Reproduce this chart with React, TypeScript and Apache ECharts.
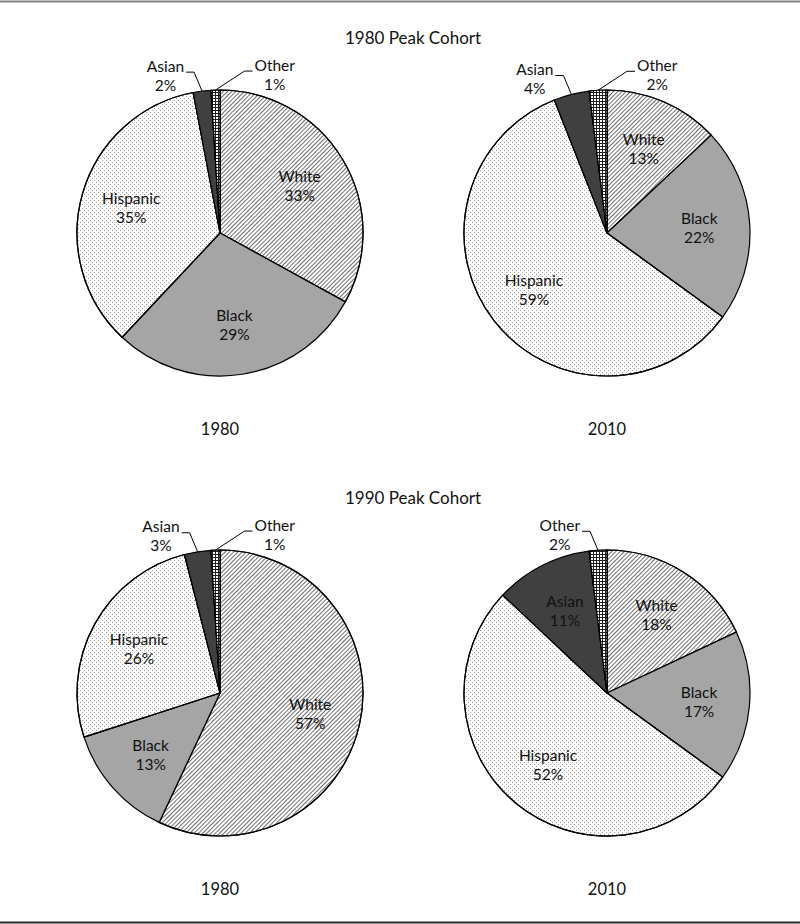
import React, { useEffect, useRef } from 'react';
import * as echarts from 'echarts';

// ---- data ----
const categories = ['White', 'Black', 'Hispanic', 'Asian', 'Other'];
const cohort1980In1980 = [33, 29, 35, 2, 1];
const cohort1980In2010 = [13, 22, 59, 4, 2];
const cohort1990In1980 = [57, 13, 26, 3, 1];
const cohort1990In2010 = [18, 17, 52, 11, 2];
const cohortTitles = ['1980 Peak Cohort', '1990 Peak Cohort'];
const yearLabels = ['1980', '2010'];

// ---- layout / style ----
const FONT = 'Lato, "Open Sans", sans-serif';
const TEXT = '#111111';
const R = 143;
const colX = [220, 607];
const rowY = [233, 693];

const pies = [
  { values: cohort1980In1980, center: [colX[0], rowY[0]], outside: { Asian: 'left', Other: 'right' } },
  { values: cohort1980In2010, center: [colX[1], rowY[0]], outside: { Asian: 'left', Other: 'right' } },
  { values: cohort1990In1980, center: [colX[0], rowY[1]], outside: { Asian: 'left', Other: 'right' } },
  { values: cohort1990In2010, center: [colX[1], rowY[1]], outside: { Other: 'left' } },
];

const sliceStyle: Record<string, any> = {
  White: {
    color: '#ffffff',
    decal: {
      symbol: 'rect', symbolSize: 1, color: '#707070',
      dashArrayX: [1, 0], dashArrayY: [1, 2], rotation: -Math.PI / 4,
    },
  },
  Black: { color: '#a5a5a5' },
  Hispanic: {
    color: '#ffffff',
    decal: {
      symbol: 'rect', symbolSize: 1, color: '#a0a0a0',
      dashArrayX: [[1, 3], [0, 2, 1, 1]], dashArrayY: [1, 1],
    },
  },
  Asian: { color: '#404040' },
  Other: {
    color: '#202020',
    decal: {
      symbol: 'rect', symbolSize: 1, color: '#ffffff',
      dashArrayX: [2, 1], dashArrayY: [2, 1],
    },
  },
};

const labelText = {
  color: TEXT,
  fontFamily: FONT,
  fontSize: 15.5,
  lineHeight: 19,
  formatter: '{b}\n{c}%',
};

function makeLabelLayout(sides: Record<string, string>) {
  return (p: any) => {
    const pts = p.labelLinePoints;
    if (!pts || !pts.length) return {};
    const side = sides[categories[p.dataIndex]];
    const right = side === 'right';
    const [x0, y0] = pts[0];
    const x1 = right ? x0 + 29 : x0 - 8;
    const y1 = y0 - 19;
    const x2 = right ? x1 + 8 : x1 - 8;
    const w = p.labelRect.width;
    return {
      x: right ? x2 + 2 + w / 2 : x2 - 2 - w / 2,
      y: y1 - 16,
      align: 'center',
      verticalAlign: 'top',
      labelLinePoints: [[x0, y0], [x1, y1], [x2, y1]],
    };
  };
}

function buildOption() {
  const series: any[] = [];
  pies.forEach((pie) => {
    const outside = pie.outside as Record<string, string>;
    series.push({
      type: 'pie',
      center: pie.center,
      radius: R,
      startAngle: 90,
      clockwise: true,
      avoidLabelOverlap: false,
      silent: true,
      itemStyle: { borderColor: '#000', borderWidth: 1.2 },
      label: { show: false, ...labelText },
      labelLine: { show: false, lineStyle: { color: '#000', width: 1 } },
      labelLayout: makeLabelLayout(outside),
      data: categories.map((name, i) => ({
        name,
        value: pie.values[i],
        itemStyle: sliceStyle[name],
        label: outside[name] ? { show: true, position: 'outside' } : { show: false },
        labelLine: outside[name] ? { show: true } : { show: false },
      })),
    });
    // label-only overlay to place inside labels a bit further out
    series.push({
      type: 'pie',
      center: pie.center,
      radius: [36, R],
      startAngle: 90,
      clockwise: true,
      avoidLabelOverlap: false,
      silent: true,
      z: 3,
      itemStyle: { color: 'rgba(0,0,0,0)', borderWidth: 0 },
      label: { show: true, position: 'inside', ...labelText },
      labelLine: { show: false },
      data: categories.map((name, i) => ({
        name,
        value: pie.values[i],
        label: { show: !outside[name] },
      })),
    });
  });

  const graphics: any[] = [
    { type: 'line', shape: { x1: 0, y1: 1.5, x2: 800, y2: 1.5 }, style: { stroke: '#808080', lineWidth: 2 } },
    { type: 'line', shape: { x1: 0, y1: 922.5, x2: 800, y2: 922.5 }, style: { stroke: '#2a2a2a', lineWidth: 2 } },
  ];
  cohortTitles.forEach((t, r) => {
    graphics.push({
      type: 'text', x: 413, y: r === 0 ? 37 : 497,
      style: { text: t, fill: TEXT, font: `17px ${FONT}`, textAlign: 'center', textVerticalAlign: 'middle' },
    });
  });
  [0, 1].forEach((r) => {
    yearLabels.forEach((y, c) => {
      graphics.push({
        type: 'text', x: colX[c], y: r === 0 ? 429 : 889,
        style: { text: y, fill: TEXT, font: `16.5px ${FONT}`, textAlign: 'center', textVerticalAlign: 'middle' },
      });
    });
  });

  return {
    animation: false,
    backgroundColor: '#ffffff',
    series,
    graphic: graphics,
  };
}

export default function App() {
  const ref = useRef<HTMLDivElement>(null);
  useEffect(() => {
    document.body.style.margin = '0';
    const chart = echarts.init(ref.current as HTMLDivElement, null, { renderer: 'svg' });
    chart.setOption(buildOption() as any);
    return () => chart.dispose();
  }, []);
  return <div ref={ref} style={{ width: 800, height: 924 }} />;
}
